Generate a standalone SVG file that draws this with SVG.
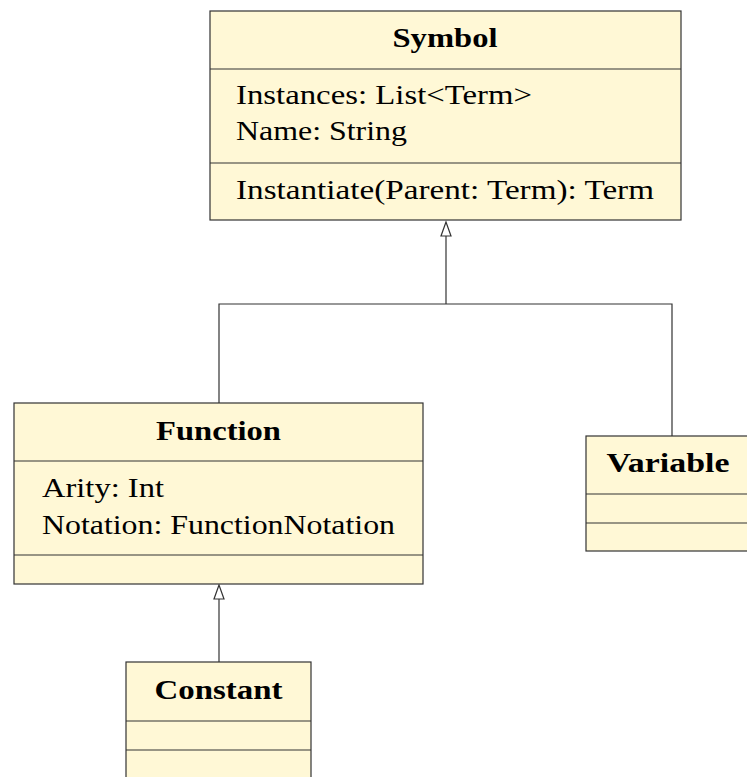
<svg xmlns="http://www.w3.org/2000/svg" width="747" height="777" viewBox="0 0 747 777">
  <style>
    .box { fill: #fff8d6; stroke: #333; stroke-width: 1.2; }
    .div { stroke: #333; stroke-width: 1.2; fill: none; }
    .title { font-family: "Liberation Serif", "DejaVu Serif", serif; font-size: 27px; font-weight: bold; fill: #000; text-anchor: middle; }
    .txt { font-family: "Liberation Serif", "DejaVu Serif", serif; font-size: 27px; fill: #000; }
    .edge { stroke: #333; stroke-width: 1.2; fill: none; }
    .head { fill: #fff; stroke: #333; stroke-width: 1.2; }
  </style>

  <!-- generalisation connectors -->
  <g id="connectors">
    <polyline class="edge" points="219,403 219,304 672,304 672,436"/>
    <line class="edge" x1="446" y1="304" x2="446" y2="236"/>
    <polygon class="head" points="446,222 441,236 451,236"/>
    <line class="edge" x1="219" y1="662" x2="219" y2="599"/>
    <polygon class="head" points="219,585 214,599 224,599"/>
  </g>

  <g id="symbol">
    <rect class="box" x="210" y="11" width="471" height="209"/>
    <line class="div" x1="210" y1="69" x2="681" y2="69"/>
    <line class="div" x1="210" y1="163" x2="681" y2="163"/>
    <text class="title" x="445" y="47" textLength="105" lengthAdjust="spacingAndGlyphs">Symbol</text>
    <text class="txt" x="236" y="104" textLength="296" lengthAdjust="spacingAndGlyphs">Instances: List&lt;Term&gt;</text>
    <text class="txt" x="236" y="140" textLength="171" lengthAdjust="spacingAndGlyphs">Name: String</text>
    <text class="txt" x="236" y="199" textLength="418" lengthAdjust="spacingAndGlyphs">Instantiate(Parent: Term): Term</text>
  </g>

  <g id="function">
    <rect class="box" x="14" y="403" width="409" height="181"/>
    <line class="div" x1="14" y1="461" x2="423" y2="461"/>
    <line class="div" x1="14" y1="555" x2="423" y2="555"/>
    <text class="title" x="218.5" y="440" textLength="125" lengthAdjust="spacingAndGlyphs">Function</text>
    <text class="txt" x="42" y="497" textLength="122" lengthAdjust="spacingAndGlyphs">Arity: Int</text>
    <text class="txt" x="42" y="534" textLength="353" lengthAdjust="spacingAndGlyphs">Notation: FunctionNotation</text>
  </g>

  <g id="variable">
    <rect class="box" x="586" y="436" width="170" height="115"/>
    <line class="div" x1="586" y1="494" x2="756" y2="494"/>
    <line class="div" x1="586" y1="523" x2="756" y2="523"/>
    <text class="title" x="668" y="472" textLength="123" lengthAdjust="spacingAndGlyphs">Variable</text>
  </g>

  <g id="constant">
    <rect class="box" x="126" y="662" width="185" height="130"/>
    <line class="div" x1="126" y1="721" x2="311" y2="721"/>
    <line class="div" x1="126" y1="750" x2="311" y2="750"/>
    <text class="title" x="218.5" y="699" textLength="128" lengthAdjust="spacingAndGlyphs">Constant</text>
  </g>
</svg>
